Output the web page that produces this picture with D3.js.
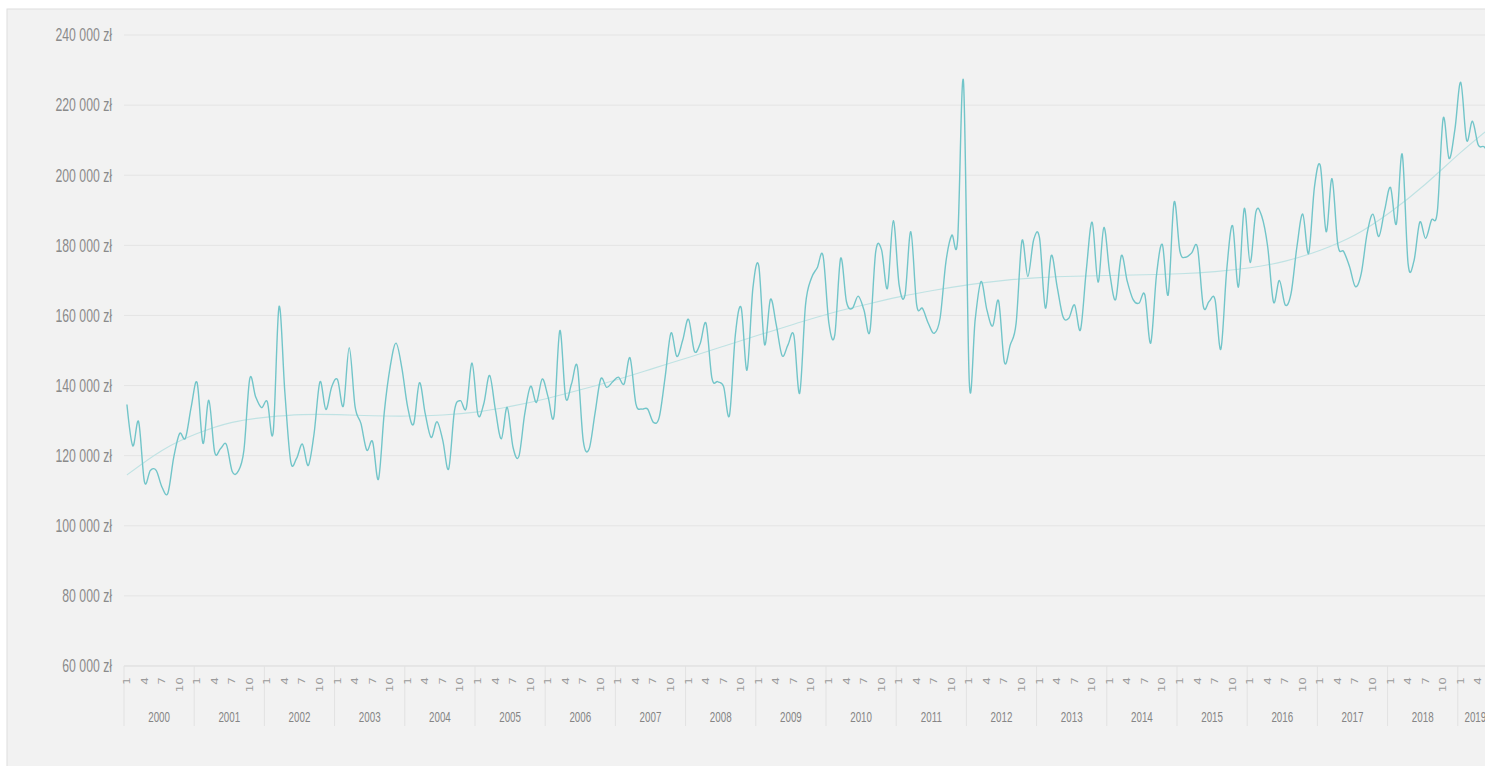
<!DOCTYPE html>
<html>
<head>
<meta charset="utf-8">
<script src="https://cdn.jsdelivr.net/npm/d3@7"></script>
<style>
  body { margin: 0; background: #fff; }
  svg { display: block; }
</style>
</head>
<body>
<script>
// categories
var years = [2000, 2001, 2002, 2003, 2004, 2005, 2006, 2007, 2008, 2009,
             2010, 2011, 2012, 2013, 2014, 2015, 2016, 2017, 2018, 2019];
var monthTicks = [1, 4, 7, 10];
var yTicks = [60000, 80000, 100000, 120000, 140000, 160000, 180000, 200000, 220000, 240000];

// monthly values (zł), Jan 2000 .. Jun 2019
var sales = [
  134600, 122800, 129700, 112500, 115800, 115800, 111000, 109300, 119500, 126300, 125000, 134000, // 2000
  140800, 123500, 135800, 121000, 122000, 123200, 115500, 115500, 121600, 142000, 136800, 133700, // 2001
  135400, 126600, 162500, 138000, 118300, 119200, 123300, 117200, 126400, 141100, 133200, 139600, // 2002
  141700, 134200, 150800, 134000, 129200, 121600, 124000, 113300, 132500, 145300, 152100, 145000, // 2003
  133800, 129000, 140800, 131900, 125200, 129700, 124300, 116200, 132900, 135700, 133500, 146400, // 2004
  131700, 134800, 142900, 132900, 124800, 133800, 122400, 119800, 131900, 139800, 135200, 141900, // 2005
  136700, 131200, 155700, 136500, 140500, 145400, 124300, 121900, 131900, 141900, 139500, 141000, // 2006
  142400, 140500, 147900, 134800, 133300, 133300, 129500, 131000, 142400, 155000, 148300, 152900, // 2007
  158900, 149800, 152000, 157700, 142100, 141100, 139700, 131500, 154400, 162200, 144400, 167700, // 2008
  174200, 151700, 164600, 157300, 148500, 151600, 154400, 137800, 163000, 170600, 173600, 177000, // 2009
  157700, 154400, 176300, 163900, 162000, 165500, 161500, 155400, 178200, 178700, 167700, 187000, // 2010
  168700, 165800, 183900, 163000, 162000, 157700, 154900, 159200, 175300, 182900, 181500, 226700, // 2011
  140800, 158800, 169700, 161600, 157000, 164200, 146600, 151600, 157800, 181300, 171100, 181600, // 2012
  182100, 162100, 177100, 168300, 159700, 159200, 163000, 155900, 173000, 186600, 169500, 185100, // 2013
  172100, 164500, 177100, 169700, 164500, 163500, 165900, 152100, 171600, 180200, 165900, 192300, // 2014
  178300, 176600, 177800, 179400, 162600, 164000, 164500, 150400, 173000, 185600, 168100, 190500, // 2015
  175100, 189600, 188200, 179600, 163800, 170000, 163000, 166300, 179600, 188900, 177700, 196700, // 2016
  202700, 183900, 199000, 180100, 178200, 173900, 168200, 172000, 183400, 188900, 182500, 190100, // 2017
  196500, 186100, 206000, 174800, 175500, 186600, 182000, 187200, 189600, 216200, 204800, 213000, // 2018
  226500, 210000, 215400, 208600, 208100, 205500                                                  // 2019
];

// polynomial trend, every six months
var trendIndex = [0, 6, 12, 18, 24, 30, 36, 42, 48, 54, 60, 66, 72, 78, 84, 90, 96, 102, 108, 114,
                  120, 126, 132, 138, 144, 150, 156, 162, 168, 174, 180, 186, 192, 198, 204, 210,
                  216, 222, 228, 233];
var trendValues = [114500, 121500, 126300, 129500, 131000, 131700, 131700, 131400, 131300, 131600,
                   132500, 134200, 136400, 139000, 141800, 144900, 148000, 151200, 154400, 157500,
                   160500, 163000, 165300, 167200, 168800, 170000, 170800, 171200, 171400, 171600,
                   171900, 172500, 173600, 175500, 178600, 183000, 189500, 197500, 206500, 213500];

var width = 1485, height = 766;
var plotLeft = 124, plotTop = 35, plotBottom = 666;
var monthW = 5.85;
var squeeze = 0.7;

var months = sales.map(function(d, i) {
  return {key: i, year: years[Math.floor(i / 12)], month: i % 12 + 1, value: d};
});

var svg = d3.select("body")
            .append("svg")
            .attr("width", width)
            .attr("height", height);

svg.append("rect")
   .attr("x", 7).attr("y", 9)
   .attr("width", width).attr("height", height)
   .attr("fill", "#f2f2f2")
   .attr("stroke", "#dedede");

var x = d3.scaleBand()
          .domain(months.map(function(d) { return d.key; }))
          .range([plotLeft, plotLeft + months.length * monthW]);

var y = d3.scaleLinear()
          .domain([60000, 240000])
          .range([plotBottom, plotTop]);

var fmt = function(v) { return d3.format(",")(v).replace(/,/g, " ") + " zł"; };

// gridlines
svg.append("g")
   .selectAll("line")
   .data(yTicks.slice(1))
   .enter().append("line")
   .attr("x1", plotLeft).attr("x2", width)
   .attr("y1", function(d) { return y(d); })
   .attr("y2", function(d) { return y(d); })
   .attr("stroke", "#e4e4e4")
   .attr("stroke-width", 1);

// y labels
svg.append("g")
   .selectAll("text")
   .data(yTicks)
   .enter().append("text")
   .attr("transform", function(d) { return "translate(112," + y(d) + ") scale(" + squeeze + ",1)"; })
   .attr("dy", "0.36em")
   .attr("text-anchor", "end")
   .attr("font-family", "Liberation Sans, Arial, sans-serif")
   .attr("font-size", "17.5px")
   .attr("fill", "#8a8a8a")
   .text(fmt);

// x axis line
svg.append("line")
   .attr("x1", plotLeft).attr("x2", width)
   .attr("y1", plotBottom).attr("y2", plotBottom)
   .attr("stroke", "#d9d9d9");

// year separators
var yearStarts = months.filter(function(d) { return d.month === 1; });
svg.append("g")
   .selectAll("line")
   .data(yearStarts)
   .enter().append("line")
   .attr("x1", function(d) { return x(d.key); })
   .attr("x2", function(d) { return x(d.key); })
   .attr("y1", plotBottom).attr("y2", 726)
   .attr("stroke", "#e2e2e2");

// month labels
svg.append("g")
   .selectAll("text")
   .data(months.filter(function(d) { return monthTicks.indexOf(d.month) >= 0; }))
   .enter().append("text")
   .attr("transform", function(d) {
     return "translate(" + (x(d.key) + x.bandwidth() / 2) + ",677) scale(" + squeeze + ",1) rotate(-90)";
   })
   .attr("dy", "0.36em")
   .attr("text-anchor", "end")
   .attr("font-family", "DejaVu Sans, sans-serif")
   .attr("font-size", "12px")
   .attr("fill", "#9a9a9a")
   .text(function(d) { return d.month; });

// year labels
svg.append("g")
   .selectAll("text")
   .data(years)
   .enter().append("text")
   .attr("transform", function(d) {
     var inYear = months.filter(function(m) { return m.year === d; });
     var x0 = x(inYear[0].key), x1 = x(inYear[inYear.length - 1].key) + x.bandwidth();
     return "translate(" + ((x0 + x1) / 2) + ",722) scale(" + squeeze + ",1)";
   })
   .attr("text-anchor", "middle")
   .attr("font-family", "Liberation Sans, Arial, sans-serif")
   .attr("font-size", "14px")
   .attr("fill", "#858585")
   .text(function(d) { return d; });

var cx = function(i) { return x(i) + x.bandwidth() / 2; };

// trend line
var trend = trendIndex.map(function(d, i) { return {key: d, value: trendValues[i]}; });
svg.append("path")
   .datum(trend)
   .attr("fill", "none")
   .attr("stroke", "#bfe2e3")
   .attr("stroke-width", 1.1)
   .attr("d", d3.line()
       .x(function(d) { return cx(d.key); })
       .y(function(d) { return y(d.value); })
       .curve(d3.curveNatural));

// data line
svg.append("path")
   .datum(months)
   .attr("fill", "none")
   .attr("stroke", "#72c5c9")
   .attr("stroke-width", 1.4)
   .attr("d", d3.line()
       .x(function(d) { return cx(d.key); })
       .y(function(d) { return y(d.value); })
       .curve(d3.curveCardinal.tension(0)));
</script>
</body>
</html>
